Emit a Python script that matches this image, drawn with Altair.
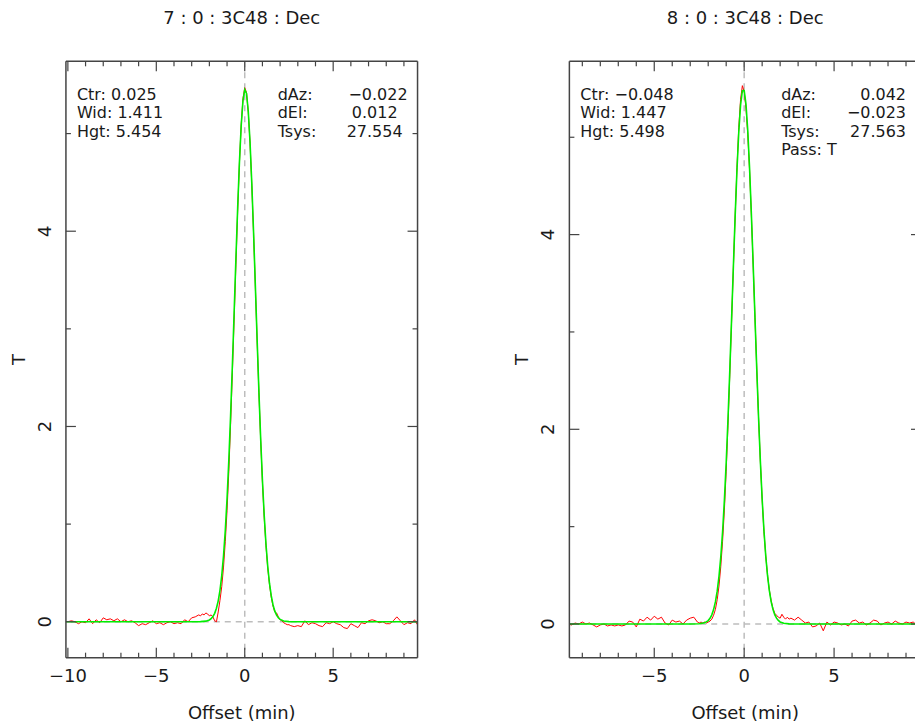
import altair as alt
import pandas as pd

# ---------------- data ----------------
# scan offsets (min) of the measured drift scans
offsets = [
    -10.0, -9.8, -9.6, -9.4, -9.2, -9.0, -8.8, -8.6, -8.4, -8.2,
    -8.0, -7.8, -7.6, -7.4, -7.2, -7.0, -6.8, -6.6, -6.4, -6.2,
    -6.0, -5.8, -5.6, -5.4, -5.2, -5.0, -4.8, -4.6, -4.4, -4.2,
    -4.0, -3.8, -3.6, -3.4, -3.2, -3.0, -2.8, -2.6,
    -2.5, -2.4, -2.3, -2.2, -2.1, -2.0, -1.9, -1.8, -1.7, -1.6,
    -1.5, -1.4, -1.3, -1.2, -1.1, -1.0, -0.9, -0.8, -0.7, -0.6,
    -0.5, -0.4, -0.3, -0.2, -0.1, 0.0, 0.1, 0.2, 0.3, 0.4,
    0.5, 0.6, 0.7, 0.8, 0.9, 1.0, 1.1, 1.2, 1.3, 1.4,
    1.5, 1.6, 1.7, 1.8, 1.9, 2.0, 2.1, 2.2, 2.3, 2.4,
    2.5,
    2.6, 2.8, 3.0, 3.2, 3.4, 3.6, 3.8, 4.0, 4.2, 4.4,
    4.6, 4.8, 5.0, 5.2, 5.4, 5.6, 5.8, 6.0, 6.2, 6.4,
    6.6, 6.8, 7.0, 7.2, 7.4, 7.6, 7.8, 8.0, 8.2, 8.4,
    8.6, 8.8, 9.0, 9.2, 9.4, 9.6, 9.8,
]

# measured T, scan 7
measured_7 = [
    0.00, 0.01, 0.00, -0.02, 0.00, -0.01, 0.03, -0.02, 0.02, -0.01,
    0.04, 0.02, 0.03, 0.01, 0.03, 0.00, 0.02, 0.00, 0.01, -0.01,
    -0.04, -0.02, -0.03, -0.01, 0.01, -0.02, -0.01, -0.03, -0.01, 0.00,
    -0.02, -0.01, -0.02, 0.02, 0.00, 0.04, 0.05, 0.07,
    0.06, 0.08, 0.07, 0.09, 0.08, 0.06, 0.07, 0.05, 0.01, 0.00,
    0.10, 0.22, 0.36, 0.56, 0.82, 1.14, 1.54, 2.02, 2.55, 3.10,
    3.66, 4.21, 4.70, 5.09, 5.36, 5.47, 5.42, 5.22, 4.90, 4.47,
    3.97, 3.43, 2.88, 2.35, 1.86, 1.43, 1.07, 0.78, 0.55, 0.38,
    0.25, 0.16, 0.10, 0.09, 0.05, 0.02, 0.01, -0.01, -0.02, -0.03,
    -0.03,
    -0.04, -0.05, -0.04, -0.05, 0.01, -0.03, -0.01, -0.02, -0.04, -0.05,
    -0.01, -0.02, 0.00, -0.02, -0.03, -0.06, -0.07, -0.02, -0.04, -0.06,
    -0.01, -0.02, 0.01, 0.02, 0.01, -0.01, 0.00, -0.02, -0.02, 0.01,
    0.05, 0.01, -0.03, -0.01, -0.02, 0.02, -0.04,
]

# measured T, scan 8
measured_8 = [
    0.00, 0.00, -0.01, 0.01, 0.00, 0.02, 0.00, 0.01, -0.01, -0.03,
    -0.01, 0.00, -0.02, -0.01, -0.02, -0.01, -0.02, -0.01, 0.03, 0.02,
    -0.03, 0.05, 0.03, 0.07, 0.04, 0.08, 0.05, 0.07, 0.01, -0.01,
    0.04, 0.02, 0.03, 0.00, 0.04, 0.06, 0.07, 0.02,
    0.01, 0.02, 0.01, 0.02, 0.01, 0.02, 0.03, 0.05, 0.09, 0.15,
    0.25, 0.39, 0.59, 0.85, 1.17, 1.57, 2.04, 2.56, 3.11, 3.66,
    4.20, 4.69, 5.10, 5.39, 5.53, 5.47, 5.30, 5.03, 4.66, 4.20,
    3.69, 3.15, 2.62, 2.12, 1.67, 1.28, 0.95, 0.70, 0.50, 0.35,
    0.24, 0.16, 0.11, 0.09, 0.07, 0.06, 0.10, 0.07, 0.05, 0.07,
    0.05,
    0.06, 0.04, 0.07, 0.04, 0.01, 0.02, -0.03, -0.02, 0.01, -0.07,
    0.02, -0.01, 0.02, 0.01, -0.01, 0.00, -0.02, 0.03, 0.04, 0.01,
    0.02, -0.01, 0.01, 0.04, 0.03, -0.01, 0.01, 0.02, 0.00, 0.03,
    0.01, 0.00, 0.02, 0.01, 0.02, -0.01, 0.00,
]

# offsets of the fitted curves
fit_offsets = [
    -10.2, -3.0, -2.5, -2.2, -2.0,
    -1.9, -1.8, -1.7, -1.6, -1.5, -1.4, -1.3, -1.2, -1.1, -1.0,
    -0.9, -0.8, -0.7, -0.6, -0.5, -0.4, -0.3, -0.2, -0.1, 0.0,
    0.1, 0.2, 0.3, 0.4, 0.5, 0.6, 0.7, 0.8, 0.9, 1.0,
    1.1, 1.2, 1.3, 1.4, 1.5, 1.6, 1.7, 1.8, 1.9,
    2.0, 2.2, 2.5, 3.0, 10.0,
]

fit_7 = [
    0.0, 0.0, 0.001, 0.006, 0.018,
    0.031, 0.053, 0.086, 0.138, 0.214, 0.322, 0.473, 0.674, 0.935, 1.262,
    1.656, 2.113, 2.622, 3.164, 3.715, 4.240, 4.707, 5.083, 5.337, 5.449,
    5.411, 5.226, 4.909, 4.484, 3.982, 3.440, 2.891, 2.362, 1.877, 1.450,
    1.090, 0.797, 0.566, 0.392, 0.264, 0.172, 0.109, 0.068, 0.041,
    0.024, 0.008, 0.001, 0.0, 0.0,
]

fit_8 = [
    0.0, 0.0, 0.002, 0.012, 0.035,
    0.059, 0.094, 0.148, 0.227, 0.337, 0.489, 0.690, 0.948, 1.270, 1.656,
    2.103, 2.600, 3.132, 3.673, 4.195, 4.666, 5.054, 5.333, 5.478, 5.481,
    5.341, 5.068, 4.683, 4.215, 3.694, 3.153, 2.621, 2.122, 1.673, 1.284,
    0.960, 0.699, 0.496, 0.342, 0.230, 0.151, 0.096, 0.060, 0.036,
    0.021, 0.007, 0.001, 0.0, 0.0,
]

x_major = [-10, -5, 0, 5]
x_major_labels = ["\u221210", "\u22125", "0", "5"]
x_minor = [-9, -8, -7, -6, -4, -3, -2, -1, 1, 2, 3, 4, 6, 7, 8, 9]
y_major = [0, 2, 4]
y_major_labels = ["0", "2", "4"]
y_minor = [1, 3, 5]

titles = ["7 : 0 : 3C48 : Dec", "8 : 0 : 3C48 : Dec"]
fit_text_7 = ["Ctr: 0.025", "Wid: 1.411", "Hgt: 5.454"]
fit_text_8 = ["Ctr: \u22120.048", "Wid: 1.447", "Hgt: 5.498"]
point_names_7 = ["dAz:", "dEl:", "Tsys:"]
point_vals_7 = ["\u22120.022", "0.012", "27.554"]
point_names_8 = ["dAz:", "dEl:", "Tsys:", "Pass: T"]
point_vals_8 = ["0.042", "\u22120.023", "27.563"]

# ---------------- styling / layout ----------------
FONT = "DejaVu Sans"
TXT = "#1a1a1a"
FRAME = "#444444"
H = 597
FULL_W = 352
ROW0 = 38.5
ROW = 18.5
one = pd.DataFrame({"a": [0]})


def text(s, x, y, align="left", angle=0, baseline="alphabetic", size=16):
    return alt.Chart(one).mark_text(
        text=s, align=align, baseline=baseline, angle=angle,
        font=FONT, fontSize=size, color=TXT
    ).encode(x=alt.value(x), y=alt.value(y))


def hrule(x1, x2, y, color=FRAME, width=1.5):
    return alt.Chart(one).mark_rule(color=color, strokeWidth=width).encode(
        x=alt.value(x1), x2=alt.value(x2), y=alt.value(y))


def vrule(x, y1, y2, color=FRAME, width=1.5):
    return alt.Chart(one).mark_rule(color=color, strokeWidth=width).encode(
        x=alt.value(x), y=alt.value(y1), y2=alt.value(y2))


def panel(measured, fit, xdom, ydom, W, title, fit_text, names, vals, val_x,
          lead=False):
    xs = alt.Scale(domain=xdom, nice=False, zero=False)
    ys = alt.Scale(domain=ydom, nice=False, zero=False)
    X = alt.X("x:Q", scale=xs, axis=None)
    Y = alt.Y("y:Q", scale=ys, axis=None)
    lo, hi = xdom

    layers = []
    dash = dict(color="#bdbdbd", strokeDash=[6, 5], strokeWidth=1.5)
    layers.append(alt.Chart(pd.DataFrame({"x": [0]})).mark_rule(**dash).encode(x=X))
    layers.append(alt.Chart(pd.DataFrame({"y": [0]})).mark_rule(**dash).encode(y=Y))

    layers.append(alt.Chart(pd.DataFrame({"x": offsets, "y": measured}))
                  .mark_line(color="#ff0000", strokeWidth=1, clip=True)
                  .encode(x=X, y=Y))
    layers.append(alt.Chart(pd.DataFrame({"x": fit_offsets, "y": fit}))
                  .mark_line(color="#00ee00", strokeWidth=1.6, clip=True)
                  .encode(x=X, y=Y))

    # frame
    layers.append(hrule(0, W, 0))
    layers.append(hrule(0, W, H))
    layers.append(vrule(0, 0, H))
    if W >= FULL_W:
        layers.append(vrule(W, 0, H))

    # x ticks (inward, bottom and top)
    maj = [(v, l) for v, l in zip(x_major, x_major_labels) if lo <= v <= hi]
    mnr = [v for v in x_minor if lo <= v <= hi]
    dmaj = pd.DataFrame({"x": [v for v, _ in maj], "label": [l for _, l in maj]})
    dmin = pd.DataFrame({"x": mnr})
    tk = dict(color=FRAME, strokeWidth=1.2)
    layers.append(alt.Chart(dmaj).mark_rule(**tk).encode(x=X, y=alt.value(H), y2=alt.value(H - 10)))
    layers.append(alt.Chart(dmaj).mark_rule(**tk).encode(x=X, y=alt.value(0), y2=alt.value(10)))
    layers.append(alt.Chart(dmin).mark_rule(**tk).encode(x=X, y=alt.value(H), y2=alt.value(H - 5)))
    layers.append(alt.Chart(dmin).mark_rule(**tk).encode(x=X, y=alt.value(0), y2=alt.value(5)))

    # y ticks (inward, left and right)
    dymaj = pd.DataFrame({"y": y_major, "label": y_major_labels})
    dymin = pd.DataFrame({"y": y_minor})
    layers.append(alt.Chart(dymaj).mark_rule(**tk).encode(y=Y, x=alt.value(0), x2=alt.value(10)))
    layers.append(alt.Chart(dymin).mark_rule(**tk).encode(y=Y, x=alt.value(0), x2=alt.value(5)))
    layers.append(alt.Chart(dymaj).mark_rule(**tk).encode(y=Y, x=alt.value(FULL_W - 10), x2=alt.value(min(W, FULL_W))))
    if W >= FULL_W - 5:
        layers.append(alt.Chart(dymin).mark_rule(**tk).encode(y=Y, x=alt.value(FULL_W - 5), x2=alt.value(min(W, FULL_W))))

    # tick labels
    layers.append(alt.Chart(dmaj).mark_text(font=FONT, fontSize=18, color=TXT, align="center",
                                            baseline="alphabetic")
                  .encode(x=X, y=alt.value(H + 24), text="label:N"))
    layers.append(alt.Chart(dymaj).mark_text(font=FONT, fontSize=18, color=TXT, align="center",
                                             baseline="middle", angle=270)
                  .encode(y=Y, x=alt.value(-20), text="label:N"))

    # titles
    layers.append(text(title, FULL_W / 2, -37, align="center", size=18))
    layers.append(text("Offset (min)", FULL_W / 2, H + 61, align="center", size=18))
    layers.append(text("T", -46, H / 2, align="center", baseline="middle", angle=270, size=18))

    # annotations
    for i, s in enumerate(fit_text):
        layers.append(text(s, 11, ROW0 + ROW * i))
    for i, s in enumerate(names):
        layers.append(text(s, 212, ROW0 + ROW * i))
    for i, s in enumerate(vals):
        layers.append(text(s, val_x[i], ROW0 + ROW * i, align="right"))

    # invisible anchors fixing the outer margins
    if lead:
        layers.append(vrule(-65.5, 0, 1, color="#ffffff", width=1))
    layers.append(hrule(0, 1, -60.5, color="#ffffff", width=1))

    return alt.layer(*layers).properties(width=W, height=H)


left = panel(measured_7, fit_7, [-10.11, 9.77], [-0.368, 5.74], 352, titles[0],
             fit_text_7, point_names_7, point_vals_7, [342, 332, 337], lead=True)
right = panel(measured_8, fit_8, [-9.72, 9.50], [-0.346, 5.78], 346, titles[1],
              fit_text_8, point_names_8, point_vals_8, [337, 337, 337])

chart = alt.hconcat(left, right, spacing=152, bounds="flush").properties(
    padding=0, background="white"
).configure_view(stroke=None)

chart.save("out.html", embed_options={"renderer": "svg", "actions": False})
